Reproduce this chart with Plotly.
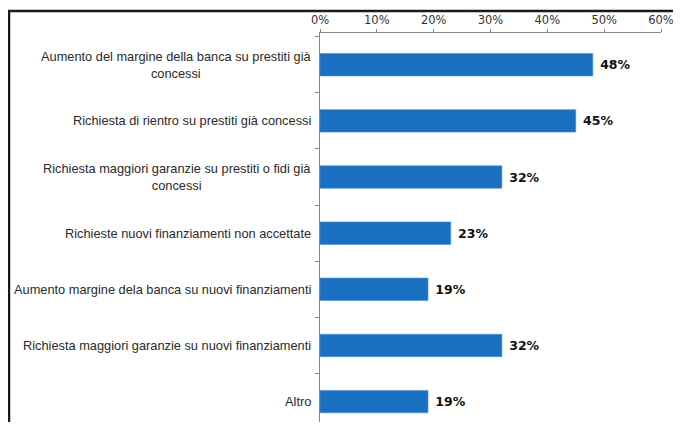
import plotly.graph_objects as go

categories = [
    "Aumento del margine della banca su prestiti già<br>concessi",
    "Richiesta di rientro su prestiti già concessi",
    "Richiesta maggiori garanzie su prestiti o fidi già<br>concessi",
    "Richieste nuovi finanziamenti non accettate",
    "Aumento margine dela banca su nuovi finanziamenti",
    "Richiesta maggiori garanzie su nuovi finanziamenti",
    "Altro",
]
values = [48, 45, 32, 23, 19, 32, 19]
tick_vals = [0, 10, 20, 30, 40, 50, 60]
tick_text = ["0%", "10%", "20%", "30%", "40%", "50%", "60%"]
value_labels = [f"{v}%" for v in values]

axis_color = "#8d847e"
bar_color = "#1b6fc0"

# Figure geometry (page has an 8px body margin, compensated here)
W, H = 673, 414
ML, MT = 312, 25
PW = 341
PH = H - MT
px_per_cat = 56.15

fig = go.Figure(
    go.Bar(
        x=values,
        y=list(range(len(categories))),
        orientation="h",
        marker=dict(color=bar_color, line=dict(color="#4a8fd6", width=0.6)),
        width=0.4,
        text=value_labels,
        texttemplate=" %{text}",
        textposition="outside",
        textfont=dict(family="DejaVu Sans", size=12.5, color="#111111", weight="bold"),
        cliponaxis=False,
        hoverinfo="skip",
    )
)

annotations = []
for i, c in enumerate(categories):
    annotations.append(
        dict(
            x=0, xref="paper", y=i, yref="y",
            text=c, showarrow=False,
            xanchor="right", yanchor="middle", align="center",
            xshift=-7,
            font=dict(family="Liberation Sans", size=12.8, color="#2a2a2a"),
        )
    )

# frame lines (top and left)
x_left = (1 - ML) / PW
x_right = (W - ML) / PW
y_top = 1 + (MT - 3) / PH
shapes = [
    dict(type="line", xref="paper", yref="paper", x0=x_left - 0.004, x1=x_right,
         y0=y_top, y1=y_top, line=dict(color="#1a1a1a", width=2.5)),
    dict(type="line", xref="paper", yref="paper", x0=x_left, x1=x_left,
         y0=y_top, y1=-0.05, line=dict(color="#1a1a1a", width=2.5)),
]

top_val = -0.565
bottom_val = top_val + PH / px_per_cat

fig.update_layout(
    width=W, height=H,
    margin=dict(l=ML, r=W - ML - PW, t=MT, b=0),
    paper_bgcolor="white", plot_bgcolor="white",
    showlegend=False,
    annotations=annotations,
    shapes=shapes,
    xaxis=dict(
        side="top", range=[0, 60],
        tickvals=tick_vals, ticktext=tick_text,
        tickfont=dict(family="DejaVu Sans", size=11.5, color="#333333"),
        showgrid=False, zeroline=False,
        showline=True, linecolor=axis_color, linewidth=1,
        ticks="outside", ticklen=3, tickcolor=axis_color,
    ),
    yaxis=dict(
        range=[bottom_val, top_val],
        showticklabels=False,
        tickvals=[i + 0.5 for i in range(-1, len(categories))],
        showgrid=False, zeroline=False,
        showline=True, linecolor=axis_color, linewidth=1,
        ticks="outside", ticklen=4, tickcolor=axis_color,
    ),
)

fig.write_html("out.html")
